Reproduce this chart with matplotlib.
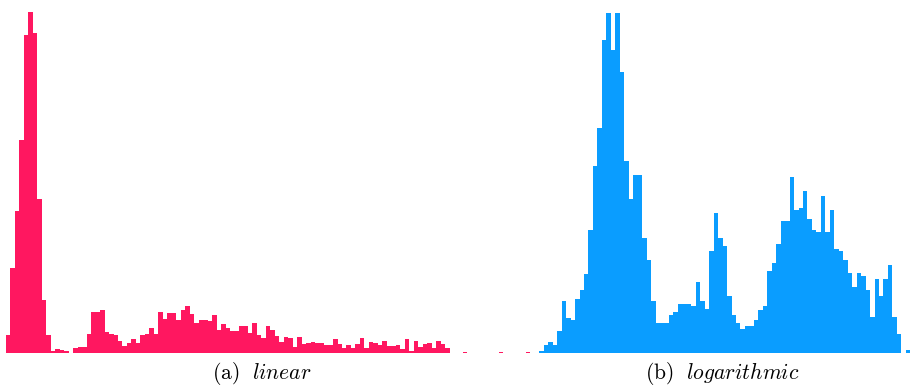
import numpy as np
import matplotlib
matplotlib.use("Agg")
import matplotlib.pyplot as plt

plt.rcParams['mathtext.fontset'] = 'cm'

# bin counts, linear binning
linear_counts = [
    17.7, 85, 142, 213, 318, 341, 320, 154, 53, 18,
    1.7, 4, 2.7, 1.3, 0, 5, 5.7, 5.7, 19, 40.7,
    40.7, 42.7, 21, 19, 18, 12, 7, 10, 14, 10,
    18, 19, 25, 19, 41, 34, 40, 39.5, 33, 43,
    47, 39, 30, 33, 33, 32, 38, 23, 28.7, 25,
    21.7, 21.7, 27, 26.7, 20, 30, 18, 14.7, 27, 23,
    17, 11, 16, 15, 6, 16, 8.7, 10, 11, 10,
    10, 8, 8, 14, 8.5, 5, 7.5, 5, 8.3, 14.3,
    5, 10.7, 10, 7.7, 12, 7, 7, 8, 3.3, 13.3,
    2, 12, 6, 9, 9.3, 5, 12, 8.3, 4.3, 0,
    0, 0, 1.2, 0, 0, 0, 0, 0, 0, 0,
    1.2, 0, 0, 0, 0, 0, 1.2,
]

# bin counts, logarithmic binning
log_counts = [
    2, 7.7, 11, 7.7, 21.7, 52, 35, 32.7, 54, 62.7,
    79, 123, 187, 225, 313, 340, 302.7, 340, 280.7, 192,
    153.7, 178, 178, 115, 93, 52, 30, 30, 30, 38,
    41, 49, 49, 49, 46.7, 71, 52, 43.7, 101.7, 140,
    115, 107, 57, 38, 30, 24, 27, 27, 32.7, 43,
    46.7, 82, 90, 109, 132, 132, 176, 142.7, 145, 162,
    134, 123, 121, 156.7, 121, 142.7, 104, 101.7, 93, 79.7,
    66, 79.7, 76.7, 63, 35.7, 74, 57, 74, 87.7, 35.7,
    19, 0, 2.3,
]

captions = [r'$\mathrm{(a)}\ \ \mathit{linear}$', r'$\mathrm{(b)}\ \ \mathit{logarithmic}$']
colors = ['#ff1760', '#0a9dff']

W, H = 912, 386
fig = plt.figure(figsize=(W / 100, H / 100), dpi=100)

base = 1 - 352.7 / H
top = 1 - 11 / H
ymax = 341.7

def panel(x0, x1, counts, color):
    ax = fig.add_axes([x0 / W, base, (x1 - x0) / W, top - base])
    idx = np.arange(len(counts))
    ax.bar(idx, counts, width=1.0, align='edge', color=color, linewidth=0)
    ax.set_xlim(0, len(counts))
    ax.set_ylim(0, ymax)
    ax.axis('off')
    return ax

panel(6, 6 + len(linear_counts) * 4.48, linear_counts, colors[0])
panel(539.3, 539.3 + len(log_counts) * 4.47, log_counts, colors[1])

fig.text(261.5 / W, 1 - 373.5 / H, captions[0], ha='center', va='center', fontsize=15.5)
fig.text(722.5 / W, 1 - 373.5 / H, captions[1], ha='center', va='center', fontsize=15.5)

fig.savefig('out.png', dpi=100, facecolor='white')
